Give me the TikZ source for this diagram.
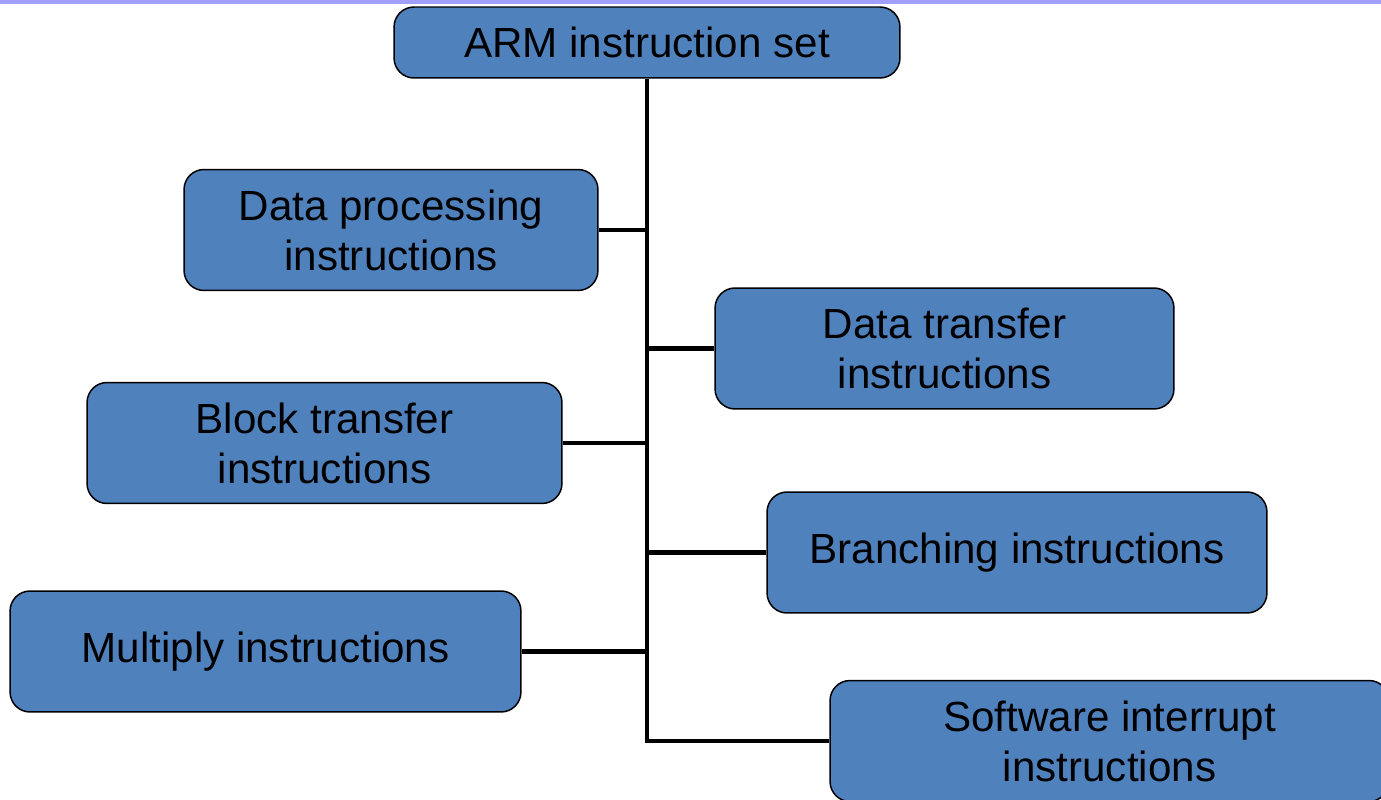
\documentclass[tikz,border=0pt]{standalone}
\usepackage{fontspec}
\setmainfont{Liberation Sans}
\definecolor{arm_blue}{RGB}{79, 129, 189}
\definecolor{arm_band}{RGB}{160, 160, 250}
\usetikzlibrary{positioning}

\begin{document}
\begin{tikzpicture}[x=0.02cm, y=-0.02cm,
        ibox/.style={rectangle, rounded corners=0.4cm, draw=black, line width=0.85pt,
                     fill=arm_blue, align=center, inner sep=0pt,
                     font=\fontsize{24}{28.5}\selectfont, minimum height=2.42cm},
        tree/.style={line width=2.8pt, black},
      ]
        \useasboundingbox (0, 0) rectangle (1381, 800);
        \fill[arm_band] (0, 0) rectangle (1381, 4);

        \node[ibox, minimum width=10.12cm, minimum height=1.42cm] (arm) at (647, 42.5)
          {ARM instruction set};

        \node[ibox, minimum width=8.28cm] (dproc) at (391, 230)
          {Data processing\\ instructions};
        \node[ibox, minimum width=9.18cm] (dtrans) at (944.5, 348.5)
          {Data transfer\\ instructions};
        \node[ibox, minimum width=9.5cm] (btrans) at (324.5, 443)
          {Block transfer\\ instructions};
        \node[ibox, minimum width=10cm] (branch) at (1017, 552.5)
          {Branching instructions};
        \node[ibox, minimum width=10.22cm] (mult) at (265.5, 651.5)
          {Multiply instructions};
        \node[ibox, minimum width=11.18cm] (swi) at (1109.5, 741)
          {Software interrupt\\ instructions};

        \draw[tree] (arm.south) |- (swi.west);
        \draw[tree] (dproc.east)  -- (dproc.east -| arm.south);
        \draw[tree] (dtrans.west) -- (dtrans.west -| arm.south);
        \draw[tree] (btrans.east) -- (btrans.east -| arm.south);
        \draw[tree] (branch.west) -- (branch.west -| arm.south);
        \draw[tree] (mult.east)   -- (mult.east -| arm.south);
      \end{tikzpicture}
\end{document}
